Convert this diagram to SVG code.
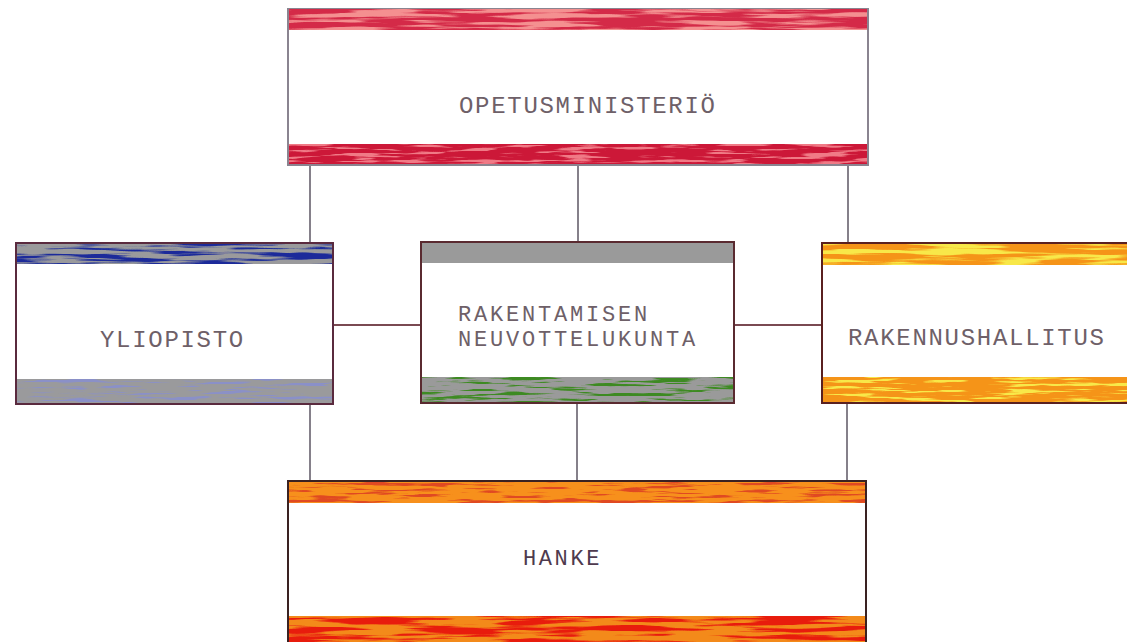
<svg xmlns="http://www.w3.org/2000/svg" width="1127" height="642" viewBox="0 0 1127 642">
<defs>
<filter id="streak" x="0" y="0" width="1" height="1">
<feTurbulence type="fractalNoise" baseFrequency="0.012 0.22" numOctaves="3" seed="3" result="n"/>
<feColorMatrix in="n" type="matrix" values="0 0 0 0 0  0 0 0 0 0  0 0 0 0 0  7 0 0 0 -3.2" result="m"/>
<feComposite in="SourceGraphic" in2="m" operator="in"/>
</filter>
<filter id="streak2" x="0" y="0" width="1" height="1">
<feTurbulence type="fractalNoise" baseFrequency="0.02 0.3" numOctaves="3" seed="11" result="n"/>
<feColorMatrix in="n" type="matrix" values="0 0 0 0 0  0 0 0 0 0  0 0 0 0 0  8 0 0 0 -4.2" result="m"/>
<feComposite in="SourceGraphic" in2="m" operator="in"/>
</filter>
</defs>
<style>
.lbl{font-family:"Liberation Mono","DejaVu Sans Mono",monospace;font-size:24px;letter-spacing:1.7px;fill:#6e6068}
.lbl2{font-family:"Liberation Mono","DejaVu Sans Mono",monospace;font-size:22px;letter-spacing:2.8px;fill:#6e6068}
.box{fill:#ffffff;stroke-width:2}
.con{stroke:#85808a;stroke-width:2;fill:none}
.conh{stroke:#7a4a52;stroke-width:2;fill:none}
</style>
<rect width="1127" height="642" fill="#ffffff"/>

<g id="connectors">
<line class="con" x1="310" y1="165" x2="310" y2="243"/>
<line class="con" x1="578" y1="165" x2="578" y2="242"/>
<line class="con" x1="848" y1="165" x2="848" y2="243"/>
<line class="conh" x1="333" y1="325" x2="421" y2="325"/>
<line class="conh" x1="734" y1="325" x2="822" y2="325"/>
<line class="con" x1="310" y1="404" x2="310" y2="481"/>
<line class="con" x1="577" y1="403" x2="577" y2="481"/>
<line class="con" x1="847" y1="403" x2="847" y2="481"/>
</g>

<g id="opetusministerio">
<rect class="box" x="288" y="9" width="580" height="156" stroke="#8a8490"/>
<rect x="289" y="9" width="578" height="21" fill="#d42a48"/>
<rect x="289" y="9" width="578" height="21" fill="#f49090" filter="url(#streak)"/>
<rect x="289" y="144" width="578" height="20" fill="#cc1838"/>
<rect x="289" y="144" width="578" height="20" fill="#f07a86" filter="url(#streak2)"/>
<text class="lbl" x="459" y="113">OPETUSMINISTERIÖ</text>
</g>

<g id="yliopisto">
<rect class="box" x="16" y="243" width="317" height="161" stroke="#5a2a3e"/>
<rect x="17" y="244" width="315" height="20" fill="#9a9a9c"/>
<rect x="17" y="244" width="315" height="20" fill="#1a2a9a" filter="url(#streak)"/>
<rect x="17" y="379" width="315" height="24" fill="#9a9a9c"/>
<rect x="17" y="379" width="315" height="24" fill="#8a90c8" filter="url(#streak2)"/>
<text class="lbl" x="100" y="347">YLIOPISTO</text>
</g>

<g id="rakentamisen">
<rect class="box" x="421" y="242" width="313" height="161" stroke="#5a2a30"/>
<rect x="422" y="243" width="311" height="20" fill="#9a9a9a"/>
<rect x="422" y="377" width="311" height="25" fill="#9a9a9a"/>
<rect x="422" y="377" width="311" height="25" fill="#3e8a22" filter="url(#streak2)"/>
<text class="lbl2" x="458" y="321">RAKENTAMISEN</text>
<text class="lbl2" x="458" y="346">NEUVOTTELUKUNTA</text>
</g>

<g id="rakennushallitus">
<rect class="box" x="822" y="243" width="310" height="160" stroke="#5a2020"/>
<rect x="823" y="244" width="306" height="21" fill="#f59418"/>
<rect x="823" y="244" width="306" height="21" fill="#f8e848" filter="url(#streak)"/>
<rect x="823" y="377" width="306" height="25" fill="#f59418"/>
<rect x="823" y="377" width="306" height="25" fill="#f8e848" filter="url(#streak2)"/>
<text class="lbl" x="848" y="345">RAKENNUSHALLITUS</text>
</g>

<g id="hanke">
<rect class="box" x="288" y="481" width="578" height="165" stroke="#3a2222"/>
<rect x="289" y="482" width="576" height="21" fill="#f7901c"/>
<rect x="289" y="482" width="576" height="21" fill="#e04a20" filter="url(#streak2)"/>
<rect x="289" y="616" width="576" height="26" fill="#f38a1a"/>
<rect x="289" y="616" width="576" height="26" fill="#e81c10" filter="url(#streak)"/>
<text class="lbl" x="523" y="565" style="font-size:22px;letter-spacing:2.6px;fill:#4e3a4e">HANKE</text>
</g>
</svg>
